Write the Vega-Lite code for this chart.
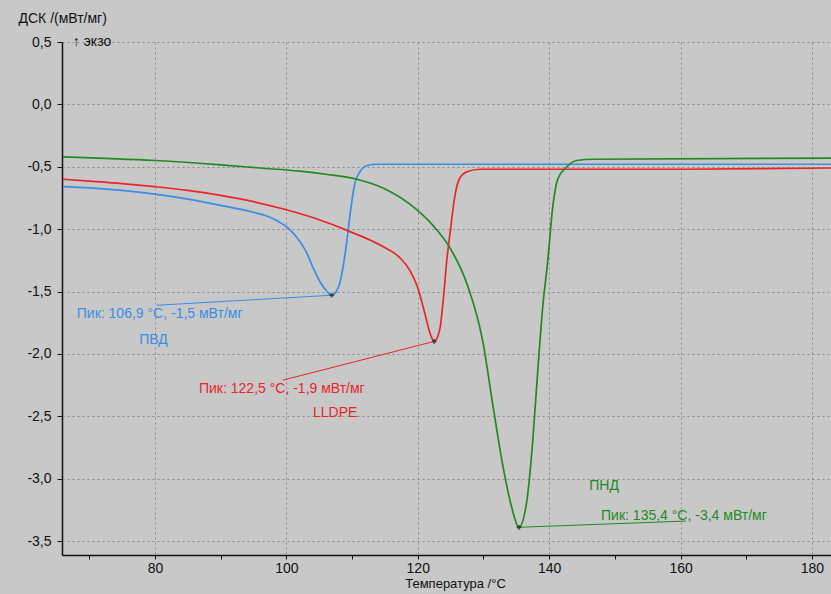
{
  "$schema": "https://vega.github.io/schema/vega-lite/v6.json",
  "width": 769,
  "height": 513,
  "autosize": {"type": "none"},
  "padding": {"left": 62, "top": 42, "right": 0, "bottom": 39},
  "background": "#c8c8c8",
  "config": {
    "view": {"stroke": null, "fill": "#c8c8c8"},
    "font": "Liberation Sans",
    "text": {"font": "Liberation Sans", "fontSize": 14}
  },
  "datasets": {
    "curves": [
      {"s": "ПВД", "t": 66, "v": -0.66}, {"s": "ПВД", "t": 70, "v": -0.67}, {"s": "ПВД", "t": 75, "v": -0.69}, {"s": "ПВД", "t": 80, "v": -0.72}, {"s": "ПВД", "t": 85, "v": -0.76}, {"s": "ПВД", "t": 90, "v": -0.81}, {"s": "ПВД", "t": 95, "v": -0.865}, {"s": "ПВД", "t": 97, "v": -0.895}, {"s": "ПВД", "t": 98.5, "v": -0.93}, {"s": "ПВД", "t": 100, "v": -0.98}, {"s": "ПВД", "t": 101, "v": -1.03}, {"s": "ПВД", "t": 102, "v": -1.095}, {"s": "ПВД", "t": 103, "v": -1.18}, {"s": "ПВД", "t": 104, "v": -1.3}, {"s": "ПВД", "t": 105.1, "v": -1.42}, {"s": "ПВД", "t": 106.2, "v": -1.5}, {"s": "ПВД", "t": 106.9, "v": -1.53}, {"s": "ПВД", "t": 107.6, "v": -1.5}, {"s": "ПВД", "t": 108.2, "v": -1.42}, {"s": "ПВД", "t": 108.7, "v": -1.28}, {"s": "ПВД", "t": 109.2, "v": -1.1}, {"s": "ПВД", "t": 109.7, "v": -0.88}, {"s": "ПВД", "t": 110.4, "v": -0.64}, {"s": "ПВД", "t": 111.2, "v": -0.54}, {"s": "ПВД", "t": 112.3, "v": -0.49}, {"s": "ПВД", "t": 113.8, "v": -0.48}, {"s": "ПВД", "t": 130, "v": -0.48}, {"s": "ПВД", "t": 150, "v": -0.48}, {"s": "ПВД", "t": 170, "v": -0.48}, {"s": "ПВД", "t": 183, "v": -0.48},
      {"s": "LLDPE", "t": 66, "v": -0.6}, {"s": "LLDPE", "t": 70, "v": -0.615}, {"s": "LLDPE", "t": 75, "v": -0.635}, {"s": "LLDPE", "t": 80, "v": -0.66}, {"s": "LLDPE", "t": 85, "v": -0.69}, {"s": "LLDPE", "t": 90, "v": -0.73}, {"s": "LLDPE", "t": 95, "v": -0.78}, {"s": "LLDPE", "t": 100, "v": -0.845}, {"s": "LLDPE", "t": 105, "v": -0.925}, {"s": "LLDPE", "t": 109.7, "v": -1.02}, {"s": "LLDPE", "t": 114.7, "v": -1.14}, {"s": "LLDPE", "t": 117.3, "v": -1.23}, {"s": "LLDPE", "t": 118.8, "v": -1.33}, {"s": "LLDPE", "t": 120.0, "v": -1.47}, {"s": "LLDPE", "t": 121.1, "v": -1.68}, {"s": "LLDPE", "t": 121.9, "v": -1.84}, {"s": "LLDPE", "t": 122.5, "v": -1.9}, {"s": "LLDPE", "t": 123.1, "v": -1.85}, {"s": "LLDPE", "t": 123.4, "v": -1.79}, {"s": "LLDPE", "t": 124.0, "v": -1.5}, {"s": "LLDPE", "t": 124.4, "v": -1.26}, {"s": "LLDPE", "t": 124.9, "v": -1.04}, {"s": "LLDPE", "t": 125.7, "v": -0.72}, {"s": "LLDPE", "t": 126.4, "v": -0.59}, {"s": "LLDPE", "t": 127.5, "v": -0.54}, {"s": "LLDPE", "t": 129.5, "v": -0.52}, {"s": "LLDPE", "t": 160, "v": -0.52}, {"s": "LLDPE", "t": 183, "v": -0.51},
      {"s": "ПНД", "t": 66, "v": -0.42}, {"s": "ПНД", "t": 80, "v": -0.45}, {"s": "ПНД", "t": 90, "v": -0.485}, {"s": "ПНД", "t": 96, "v": -0.51}, {"s": "ПНД", "t": 102, "v": -0.535}, {"s": "ПНД", "t": 106, "v": -0.56}, {"s": "ПНД", "t": 110.7, "v": -0.6}, {"s": "ПНД", "t": 114.7, "v": -0.67}, {"s": "ПНД", "t": 118.8, "v": -0.8}, {"s": "ПНД", "t": 122.3, "v": -0.97}, {"s": "ПНД", "t": 124.9, "v": -1.15}, {"s": "ПНД", "t": 127.5, "v": -1.44}, {"s": "ПНД", "t": 129.9, "v": -1.9}, {"s": "ПНД", "t": 131.4, "v": -2.4}, {"s": "ПНД", "t": 133.0, "v": -2.91}, {"s": "ПНД", "t": 134.3, "v": -3.23}, {"s": "ПНД", "t": 135.4, "v": -3.39}, {"s": "ПНД", "t": 136.6, "v": -3.18}, {"s": "ПНД", "t": 137.5, "v": -2.7}, {"s": "ПНД", "t": 138.3, "v": -2.11}, {"s": "ПНД", "t": 139.1, "v": -1.58}, {"s": "ПНД", "t": 139.7, "v": -1.3}, {"s": "ПНД", "t": 140.6, "v": -0.8}, {"s": "ПНД", "t": 141.3, "v": -0.6}, {"s": "ПНД", "t": 142.7, "v": -0.5}, {"s": "ПНД", "t": 144.2, "v": -0.45}, {"s": "ПНД", "t": 146.7, "v": -0.44}, {"s": "ПНД", "t": 183, "v": -0.43}
    ],
    "leaders": [
      {"s": "ПВД", "t": 106.9, "v": -1.53, "t2": 80.3, "v2": -1.61},
      {"s": "LLDPE", "t": 122.5, "v": -1.9, "t2": 99.5, "v2": -2.21},
      {"s": "ПНД", "t": 135.4, "v": -3.39, "t2": 160.8, "v2": -3.34}
    ],
    "labels": [
      {"s": "ПВД", "t": 68.1, "v": -1.68, "label": "Пик: 106,9 °C, -1,5 мВт/мг"},
      {"s": "ПВД", "t": 77.6, "v": -1.89, "label": "ПВД"},
      {"s": "LLDPE", "t": 86.7, "v": -2.28, "label": "Пик: 122,5 °C, -1,9 мВт/мг"},
      {"s": "LLDPE", "t": 104.05, "v": -2.47, "label": "LLDPE"},
      {"s": "ПНД", "t": 147.9, "v": -3.3, "label": "Пик: 135,4 °C, -3,4 мВт/мг"},
      {"s": "ПНД", "t": 146.1, "v": -3.06, "label": "ПНД"}
    ],
    "peaks": [
      {"t": 106.9, "v": -1.53}, {"t": 122.5, "v": -1.9}, {"t": 135.4, "v": -3.39}
    ],
    "exo": [{"t": 67.5, "v": 0.5, "label": "↑ экзо"}]
  },
  "layer": [
    {
      "data": {"name": "curves"},
      "mark": {"type": "line", "interpolate": "monotone", "strokeWidth": 1.7, "clip": true},
      "encoding": {
        "x": {
          "field": "t", "type": "quantitative",
          "scale": {"domain": [65.85, 182.9], "nice": false, "zero": false},
          "axis": {
            "title": "Температура /°C",
            "titleX": 393,
            "values": [70, 80, 90, 100, 110, 120, 130, 140, 150, 160, 170, 180],
            "labelExpr": "datum.value % 20 == 0 ? datum.value : ''",
            "grid": true,
            "gridColor": "#8a8a8a",
            "gridDash": [2, 3],
            "gridOpacity": {"condition": {"test": "datum.value % 20 == 0", "value": 1}, "value": 0},
            "domainColor": "#111111",
            "domainWidth": 1.5,
            "tickColor": "#111111",
            "tickSize": 4,
            "labelColor": "#111111",
            "labelFontSize": 14,
            "labelFont": "Liberation Sans",
            "labelPadding": 2,
            "labelFlush": false,
            "titleFont": "Liberation Sans",
            "titleFontSize": 13,
            "titleFontWeight": "normal",
            "titleColor": "#111111",
            "titlePadding": 2
          }
        },
        "y": {
          "field": "v", "type": "quantitative",
          "scale": {"domain": [-3.612, 0.5], "nice": false, "zero": false},
          "axis": {
            "title": "ДСК /(мВт/мг)",
            "titleAngle": 0,
            "titleAlign": "left",
            "titleBaseline": "middle",
            "titleX": -44,
            "titleY": -24,
            "titleFont": "Liberation Sans",
            "titleFontSize": 14,
            "titleFontWeight": "normal",
            "titleColor": "#111111",
            "values": [-3.5, -3.25, -3, -2.75, -2.5, -2.25, -2, -1.75, -1.5, -1.25, -1, -0.75, -0.5, -0.25, 0, 0.25, 0.5],
            "labelExpr": "(datum.value * 2) % 1 == 0 ? ((datum.value < 0 ? '-' : '') + replace(format(abs(datum.value), '.1f'), '.', ',')) : ''",
            "grid": true,
            "gridColor": "#8a8a8a",
            "gridDash": [2, 3],
            "gridOpacity": {"condition": {"test": "(datum.value * 2) % 1 == 0", "value": 1}, "value": 0},
            "domainColor": "#111111",
            "domainWidth": 1.5,
            "tickColor": "#111111",
            "tickSize": 5,
            "labelColor": "#111111",
            "labelFontSize": 14,
            "labelFont": "Liberation Sans",
            "labelPadding": 6,
            "labelFlush": false
          }
        },
        "color": {
          "field": "s", "type": "nominal",
          "scale": {"domain": ["ПВД", "LLDPE", "ПНД"], "range": ["#3a8ee6", "#e8262a", "#1f8a1f"]},
          "legend": null
        }
      }
    },
    {
      "data": {"name": "leaders"},
      "mark": {"type": "rule", "strokeWidth": 1},
      "encoding": {
        "x": {"field": "t", "type": "quantitative"},
        "y": {"field": "v", "type": "quantitative"},
        "x2": {"field": "t2"},
        "y2": {"field": "v2"},
        "color": {"field": "s", "type": "nominal", "legend": null}
      }
    },
    {
      "data": {"name": "peaks"},
      "mark": {"type": "point", "shape": "cross", "size": 22, "color": "#222222", "filled": true, "strokeWidth": 0},
      "encoding": {
        "x": {"field": "t", "type": "quantitative"},
        "y": {"field": "v", "type": "quantitative"}
      }
    },
    {
      "data": {"name": "labels"},
      "mark": {"type": "text", "align": "left", "baseline": "middle", "fontSize": 14},
      "encoding": {
        "x": {"field": "t", "type": "quantitative"},
        "y": {"field": "v", "type": "quantitative"},
        "text": {"field": "label"},
        "color": {"field": "s", "type": "nominal", "legend": null}
      }
    },
    {
      "data": {"name": "exo"},
      "mark": {"type": "text", "align": "left", "baseline": "middle", "fontSize": 14, "color": "#111111"},
      "encoding": {
        "x": {"field": "t", "type": "quantitative"},
        "y": {"field": "v", "type": "quantitative"},
        "text": {"field": "label"}
      }
    }
  ]
}
